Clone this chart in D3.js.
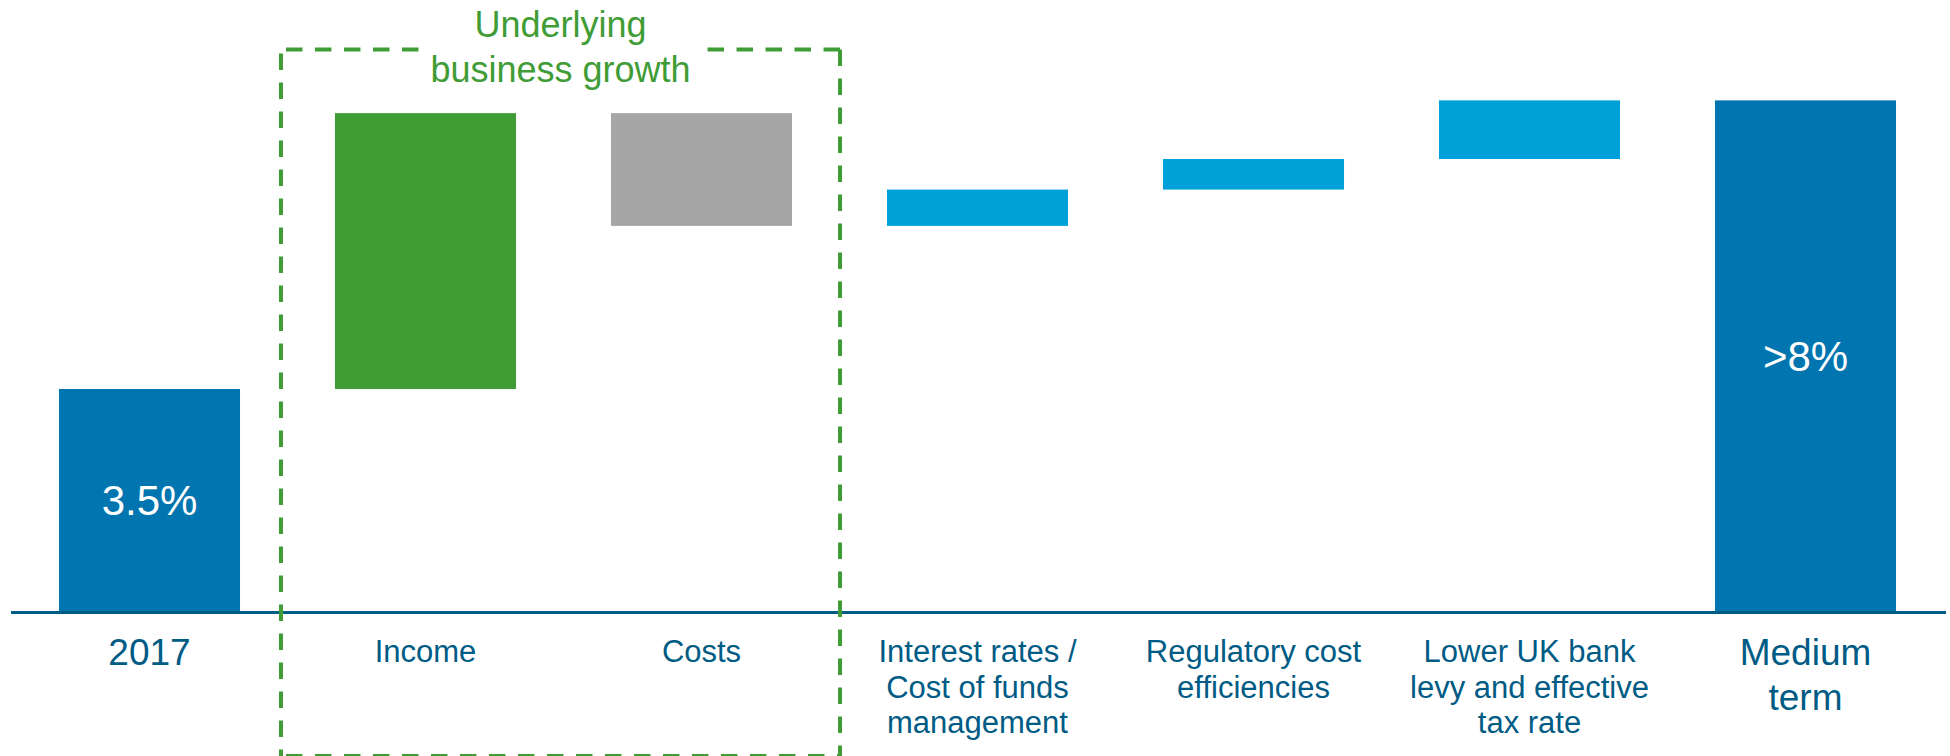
<!DOCTYPE html>
<html>
<head>
<meta charset="utf-8">
<script src="https://cdn.jsdelivr.net/npm/d3@7"></script>
<style>
  html, body { margin: 0; padding: 0; background: #fff; }
  svg { display: block; font-family: "Liberation Sans", Arial, sans-serif; }
</style>
</head>
<body>
<svg width="1950" height="756"></svg>
<script>
// waterfall: ROE bridge 2017 -> medium term
const categories = ['2017', 'Income', 'Costs', 'Interest', 'Regulatory', 'Levy', 'Medium'];
const labels = [
  ['2017'],
  ['Income'],
  ['Costs'],
  ['Interest rates /', 'Cost of funds', 'management'],
  ['Regulatory cost', 'efficiencies'],
  ['Lower UK bank', 'levy and effective', 'tax rate'],
  ['Medium', 'term']
];
const kinds = ['total', 'income', 'cost', 'step', 'step', 'step', 'total'];
const deltas = [3.5, 4.33, -1.77, 0.57, 0.48, 0.92, null];
const barText = ['3.5%', '', '', '', '', '', '>8%'];
const groupTitle = ['Underlying', 'business growth'];
const groupMembers = ['Income', 'Costs'];

const svg = d3.select('svg');
const baseY = 612;

const colors = {
  total: '#0075b0',
  income: '#409c35',
  cost: '#a6a6a6',
  step: '#00a0d9'
};
const textBlue = '#005b85';
const green = '#409c35';

// running totals
let run = 0;
const bars = categories.map((c, i) => {
  if (kinds[i] === 'total') {
    if (deltas[i] != null) run = deltas[i];
    return { cat: c, lo: 0, hi: run, i };
  }
  const lo = run;
  run += deltas[i];
  return { cat: c, lo: Math.min(lo, run), hi: Math.max(lo, run), i };
});

const x = d3.scaleBand()
  .domain(categories)
  .range([11.5, 1943.5])
  .paddingInner(0.344)
  .paddingOuter(0.172);

const y = d3.scaleLinear()
  .domain([0, 3.5])
  .range([baseY, 389]);

svg.append('g')
  .selectAll('rect')
  .data(bars)
  .join('rect')
  .attr('x', d => x(d.cat))
  .attr('width', x.bandwidth())
  .attr('y', d => y(d.hi))
  .attr('height', d => y(d.lo) - y(d.hi))
  .attr('fill', d => colors[kinds[d.i]]);

svg.append('g')
  .selectAll('text')
  .data(bars.filter(d => barText[d.i]))
  .join('text')
  .attr('x', d => x(d.cat) + x.bandwidth() / 2)
  .attr('y', d => (y(d.lo) + y(d.hi)) / 2)
  .attr('dy', '0.35em')
  .attr('text-anchor', 'middle')
  .attr('font-size', 42)
  .attr('fill', '#fff')
  .text(d => barText[d.i]);

// axis line
svg.append('line')
  .attr('x1', 11)
  .attr('x2', 1946)
  .attr('y1', baseY + 0.5)
  .attr('y2', baseY + 0.5)
  .attr('stroke', textBlue)
  .attr('stroke-width', 3);

// category labels
categories.forEach((c, i) => {
  const big = kinds[i] === 'total';
  const size = big ? 37 : 31;
  const lh = big ? 45 : 35.5;
  const t = svg.append('text')
    .attr('text-anchor', 'middle')
    .attr('font-size', size)
    .attr('fill', textBlue);
  labels[i].forEach((line, j) => {
    t.append('tspan')
      .attr('x', x(c) + x.bandwidth() / 2)
      .attr('y', (big ? 665 : 662) + j * lh)
      .text(line);
  });
});

// dashed group box
const g0 = groupMembers[0];
const g1 = groupMembers[groupMembers.length - 1];
const boxL = x(g0) - 54;
const boxR = x(g1) + x.bandwidth() + 48;
const boxT = 49.5;
const boxB = 756;
const boxCx = (boxL + boxR) / 2;

const title = svg.append('text')
  .attr('text-anchor', 'middle')
  .attr('font-size', 36)
  .attr('fill', green);
groupTitle.forEach((line, j) => {
  title.append('tspan')
    .attr('x', boxCx)
    .attr('y', 37 + j * 45)
    .text(line);
});
const gapHalf = d3.max(title.selectAll('tspan').nodes(), n => n.getComputedTextLength()) / 2 + 5;

const dash = (x1, y1, x2, y2, off) => svg.append('line')
  .attr('x1', x1).attr('y1', y1)
  .attr('x2', x2).attr('y2', y2)
  .attr('stroke', green)
  .attr('stroke-width', 4)
  .attr('stroke-dasharray', '16.5,12.5')
  .attr('stroke-dashoffset', off || 0);

dash(boxL, boxT, boxCx - gapHalf, boxT, -5);
dash(boxR, boxT, boxCx + gapHalf, boxT);
dash(boxL, boxT, boxL, boxB, -4);
dash(boxR, boxT, boxR, boxB);
dash(boxL, boxB, boxR, boxB, -5);
</script>
</body>
</html>
